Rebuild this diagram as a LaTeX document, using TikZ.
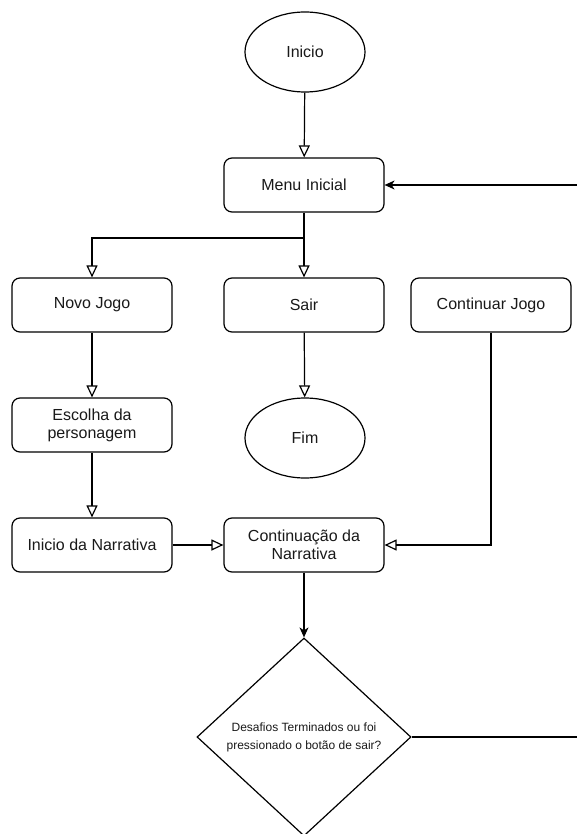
\documentclass[tikz,border=0pt]{standalone}
\usepackage{fontspec}
\setmainfont{Liberation Sans}
\usetikzlibrary{arrows.meta,shapes.geometric}
\begin{document}
\begin{tikzpicture}[x=1pt,y=-1pt,
  every node/.style={text=black!90},
  box/.style={draw, rounded corners=8pt, minimum width=160pt, minimum height=54pt, align=center, inner sep=0pt, line width=1.2pt, font=\fontsize{16}{18}\selectfont},
  term/.style={draw, ellipse, minimum width=120pt, minimum height=80pt, inner sep=0pt, line width=1.2pt, font=\fontsize{16}{18}\selectfont},
  dec/.style={draw, diamond, minimum width=214pt, minimum height=198pt, inner sep=0pt, line width=1.2pt, align=center, font=\fontsize{12}{18}\selectfont},
  oarr/.style={line width=1.2pt, -{Triangle[open,length=12pt,width=11pt]}},
  farr/.style={line width=1.2pt, -{Stealth[length=10pt,width=9pt,inset=3pt]}},
  plain/.style={line width=1.2pt},
]
\useasboundingbox (0,0) rectangle (577,834);
\node[term] (inicio) at (305,52) {Inicio};
\node[box] (menu) at (304,185) {Menu Inicial};
\node[box] (novo) at (92,305) {Novo Jogo};
\node[box] (sair) at (304,305) {Sair};
\node[box] (cont) at (491,305) {Continuar Jogo};
\node[box] (escolha) at (92,425) {Escolha da\\personagem};
\node[term] (fim) at (305,438) {Fim};
\node[box] (inarr) at (92,545) {Inicio da Narrativa};
\node[box] (contnarr) at (304,545) {Continuação da\\Narrativa};
\node[dec] (dec) at (304,737) {Desafios Terminados ou foi\\pressionado o botão de sair?};
\coordinate (j) at (304,238);
\coordinate (r1) at (577,185);
\coordinate (r2) at (577,737);

\draw[oarr] (inicio) -- (menu);
\draw[plain] (menu) -- (j);
\draw[oarr] (j) -| (novo);
\draw[oarr] (j) -- (sair);
\draw[oarr] (sair) -- (fim);
\draw[oarr] (novo) -- (escolha);
\draw[oarr] (escolha) -- (inarr);
\draw[oarr] (inarr) -- (contnarr);
\draw[oarr] (cont.south) |- (contnarr.east);
\draw[farr] (contnarr) -- (dec);
\draw[farr] (r1) -- (menu.east);
\draw[plain] (dec.east) -- (r2);
\end{tikzpicture}
\end{document}
